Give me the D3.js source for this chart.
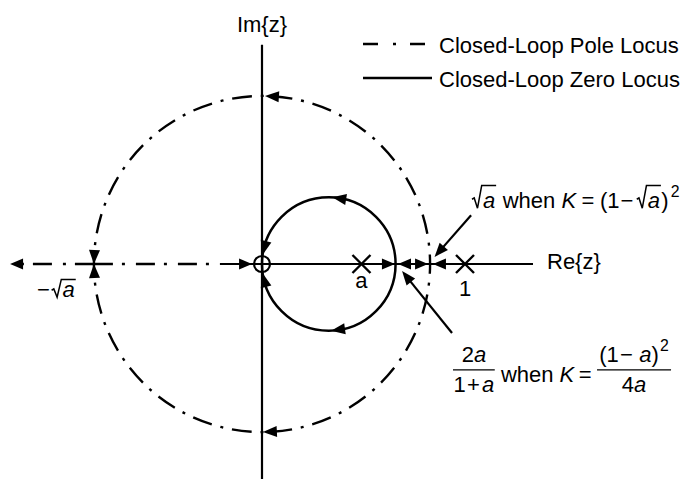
<!DOCTYPE html>
<html><head><meta charset="utf-8">
<script src="https://cdn.jsdelivr.net/npm/d3@7"></script>
<style>
html,body{margin:0;padding:0;background:#fff;}
svg{display:block;}
text{font-family:"Liberation Sans",Arial,Helvetica,sans-serif;fill:#000;}
</style></head><body>
<svg id="chart" width="687" height="479"></svg>
<script>
// Complex-plane extents (units of the real axis)
const reExtent = [-1.241, 1.335];
const imExtent = [-1.06, 1.08];
// Open-loop poles marked with crosses, and their labels
const polePositions = [0.49, 1];
const poleLabels = ["a", "1"];
// Closed-loop zero at the origin
const zeroPositions = [0];
// Pole-locus circle radius (√a) and zero-locus circle crossing (2a/(1+a))
const poleCircleRadius = 0.828;
const zeroCircleCrossing = 0.658;
// Where the real-axis pole locus turns from dash-dot to solid
const realLocusSolidFrom = -0.207;
// Legend entries
const legendLabels = ["Closed-Loop Pole Locus", "Closed-Loop Zero Locus"];
const legendStyles = ["dashdot", "solid"];
// Direction arrows on the pole-locus circle: angle (deg) and sense (+1 ccw, -1 cw)
const poleArrowAngles = [89, -89.7, 180, -180];
const poleArrowSense = [1, -1, 1, -1];
// Direction arrows on the zero-locus circle (angles about its own centre)
const zeroArrowAngles = [87, -88, 172, -172];
const zeroArrowSense = [1, -1, 1, -1];
// Arrows along the real axis: tip position and heading (+1 right, -1 left)
const axisArrowTips = [-1.241, -0.049, 0.655, 0.670, 0.818, 0.842];
const axisArrowHeading = [-1, 1, 1, -1, 1, -1];
// Callout leaders: start and tip in plane coordinates
const calloutFrom = [[1.03, 0.24], [0.936, -0.34]];
const calloutTo = [[0.85, 0.035], [0.69, -0.035]];

const svg = d3.select("#chart");
const x = d3.scaleLinear().domain([0, 1]).range([262, 465]);
const y = d3.scaleLinear().domain([0, 1]).range([264, 61]);
const unit = x(1) - x(0);
const FS = 22;
const INK = "#000";
const SP = 0.278; // width of a word space, in em

// filled arrowhead with its tip at (tx,ty) and a base point (bx,by)
function headFromBase(g, tx, ty, bx, by, W = 5.5) {
  const a = Math.atan2(ty - by, tx - bx);
  const px = -Math.sin(a) * W, py = Math.cos(a) * W;
  g.append("path")
    .attr("d", `M${tx},${ty}L${bx + px},${by + py}L${bx - px},${by - py}Z`)
    .attr("fill", INK);
}
function headDir(g, tx, ty, ang, L = 14, W = 5.5) {
  headFromBase(g, tx, ty, tx - L * Math.cos(ang), ty - L * Math.sin(ang), W);
}
// arrowhead sitting on a circle, tip at angle deg, moving in the given sense
function circleHead(g, cx, cy, R, deg, sense, L = 14) {
  const t = deg * Math.PI / 180;
  const tb = t - sense * L / R;
  headFromBase(g, cx + R * Math.cos(t), cy - R * Math.sin(t),
                  cx + R * Math.cos(tb), cy - R * Math.sin(tb));
}
// evenly fitted dash-dot pattern for a closed path of length C
function fittedDash(C, base) {
  const per = d3.sum(base);
  const n = Math.round(C / per);
  const s = C / n / per;
  return base.map(v => (v * s).toFixed(2)).join(" ");
}

const gLines = svg.append("g");
const gHeads = svg.append("g");
const gText = svg.append("g");

// axes
gLines.append("line")
  .attr("x1", x(0)).attr("x2", x(0))
  .attr("y1", y(imExtent[1])).attr("y2", y(imExtent[0]) + 20)
  .attr("stroke", INK).attr("stroke-width", 2.2);
gLines.append("line")
  .attr("x1", x(realLocusSolidFrom)).attr("x2", x(reExtent[1]))
  .attr("y1", y(0)).attr("y2", y(0))
  .attr("stroke", INK).attr("stroke-width", 2.2);

// pole locus on the negative real axis (dash-dot)
const dashBase = [19, 9, 3, 11];
gLines.append("line")
  .attr("x1", x(-poleCircleRadius)).attr("x2", x(realLocusSolidFrom))
  .attr("y1", y(0)).attr("y2", y(0))
  .attr("stroke", INK).attr("stroke-width", 2.4)
  .attr("stroke-dasharray", dashBase.join(" "));
gLines.append("line")
  .attr("x1", x(-poleCircleRadius)).attr("x2", x(reExtent[0]) + 12)
  .attr("y1", y(0)).attr("y2", y(0))
  .attr("stroke", INK).attr("stroke-width", 2.4)
  .attr("stroke-dasharray", dashBase.join(" "));

// pole locus circle
const Rp = poleCircleRadius * unit;
gLines.append("circle")
  .attr("cx", x(0)).attr("cy", y(0)).attr("r", Rp)
  .attr("fill", "none").attr("stroke", INK).attr("stroke-width", 2.4)
  .attr("stroke-dasharray", fittedDash(2 * Math.PI * Rp, [20, 9, 3, 9]))
  .attr("stroke-dashoffset", 10);

// zero locus circle
const zc = zeroCircleCrossing / 2;
const Rz = zc * unit;
gLines.append("circle")
  .attr("cx", x(zc)).attr("cy", y(0)).attr("r", Rz)
  .attr("fill", "none").attr("stroke", INK).attr("stroke-width", 2.5);

// closed-loop zero
zeroPositions.forEach(z => {
  gLines.append("circle")
    .attr("cx", x(z)).attr("cy", y(0)).attr("r", 8)
    .attr("fill", "none").attr("stroke", INK).attr("stroke-width", 2.2);
});

// open-loop poles
polePositions.forEach((p, i) => {
  const cx = x(p), cy = y(0), s = 9;
  gLines.append("path")
    .attr("d", `M${cx - s},${cy - s}L${cx + s},${cy + s}M${cx - s},${cy + s}L${cx + s},${cy - s}`)
    .attr("stroke", INK).attr("stroke-width", 2.4).attr("fill", "none");
  gText.append("text")
    .attr("x", cx).attr("y", i === 0 ? cy + 24 : cy + 32)
    .attr("text-anchor", "middle").style("font-size", FS + "px")
    .text(poleLabels[i]);
});

// direction arrows
poleArrowAngles.forEach((d, i) => circleHead(gHeads, x(0), y(0), Rp, d, poleArrowSense[i]));
zeroArrowAngles.forEach((d, i) => circleHead(gHeads, x(zc), y(0), Rz, d, zeroArrowSense[i]));
axisArrowTips.forEach((t, i) => headDir(gHeads, x(t), y(0), axisArrowHeading[i] > 0 ? 0 : Math.PI, 13, 5.5));

// callout leaders
calloutFrom.forEach((f, i) => {
  const t = calloutTo[i];
  const a = Math.atan2(y(t[1]) - y(f[1]), x(t[0]) - x(f[0]));
  gLines.append("line")
    .attr("x1", x(f[0])).attr("y1", y(f[1]))
    .attr("x2", x(t[0]) - 10 * Math.cos(a)).attr("y2", y(t[1]) - 10 * Math.sin(a))
    .attr("stroke", INK).attr("stroke-width", 2.2);
  headDir(gHeads, x(t[0]), y(t[1]), a, 14, 5.5);
});

// simple math typesetting: runs of text, square roots, fractions, superscripts
function mathRun(parent, x0, y0, items, size) {
  let cx = x0;
  for (const it of items) {
    if (it.gap !== undefined) { cx += it.gap * size; continue; }
    if (it.root) {
      const rw = (it.w || 0.5) * size;
      const end = mathRun(parent, cx + rw, y0, it.root, size);
      const top = y0 - (it.h || 0.8) * size;
      const mid = y0 - (it.h || 0.8) * size * 0.42;
      parent.append("path")
        .attr("d", `M${cx},${mid + 0.03 * size}L${cx + 0.1 * size},${mid - 0.03 * size}` +
                   `L${cx + 0.25 * size},${y0 + 0.01 * size}L${cx + rw - 0.06 * size},${top}L${end + 0.04 * size},${top}`)
        .attr("fill", "none").attr("stroke", INK).attr("stroke-width", 1.5)
        .attr("stroke-linejoin", "miter");
      cx = end + 0.06 * size;
      continue;
    }
    if (it.frac) {
      const gN = parent.append("g"), gD = parent.append("g");
      const wN = mathRun(gN, 0, 0, it.frac[0], size);
      const wD = mathRun(gD, 0, 0, it.frac[1], size);
      const w = Math.max(wN, wD) + it.pad * size;
      const bar = y0 - 0.55 * size;
      gN.attr("transform", `translate(${cx + (w - wN) / 2},${bar - 0.37 * size})`);
      gD.attr("transform", `translate(${cx + (w - wD) / 2},${bar + 1.0 * size})`);
      parent.append("line").attr("x1", cx).attr("x2", cx + w)
        .attr("y1", bar).attr("y2", bar).attr("stroke", INK).attr("stroke-width", 1.3);
      cx += w;
      continue;
    }
    const sz = it.sup ? 0.72 * size : size;
    const t = parent.append("text")
      .attr("x", cx).attr("y", y0 - (it.sup ? 0.48 * size : 0))
      .style("font-size", sz + "px")
      .style("font-style", it.i ? "italic" : "normal")
      .text(it.t);
    cx += t.node().getComputedTextLength();
  }
  return cx;
}

// axis titles
gText.append("text").attr("x", x(0)).attr("y", 32).attr("text-anchor", "middle")
  .style("font-size", FS + "px").text("Im{z}");
gText.append("text").attr("x", 547).attr("y", 269)
  .style("font-size", FS + "px").text("Re{z}");

// −√a on the negative real axis
mathRun(gText, 37, 297, [{ t: "−" }, { gap: 0.08 }, { root: [{ t: "a", i: 1 }], h: 0.8 }], FS);

// √a when K = (1−√a)^2
mathRun(gText, 472, 208, [
  { root: [{ t: "a", i: 1 }], h: 1.02 }, { gap: SP }, { t: "when" }, { gap: SP }, { t: "K", i: 1 },
  { gap: 0.25 }, { t: "=" }, { gap: 0.25 }, { t: "(1" }, { gap: 0.05 }, { t: "−" }, { gap: 0.15 },
  { root: [{ t: "a", i: 1 }], h: 1.02 }, { t: ")" }, { gap: 0.1 }, { t: "2", sup: 1 }
], FS);

// 2a/(1+a) when K = (1−a)^2 / 4a
mathRun(gText, 453, 382, [
  { frac: [[{ t: "2" }, { t: "a", i: 1 }], [{ t: "1" }, { gap: 0.05 }, { t: "+" }, { gap: 0.1 }, { t: "a", i: 1 }]], pad: 0.05 },
  { gap: SP }, { t: "when" }, { gap: SP }, { t: "K", i: 1 }, { gap: 0.2 }, { t: "=" }, { gap: 0.25 },
  { frac: [[{ t: "(1" }, { gap: 0.05 }, { t: "−" }, { gap: 0.3 }, { t: "a", i: 1 }, { t: ")" }, { gap: 0.05 }, { t: "2", sup: 1 }],
           [{ t: "4" }, { t: "a", i: 1 }]], pad: 0.2 }
], FS);

// legend
const legend = svg.append("g");
legendLabels.forEach((lab, i) => {
  const ly = [44, 78][i];
  const ln = legend.append("line")
    .attr("x1", 363).attr("x2", legendStyles[i] === "solid" ? 432 : 425)
    .attr("y1", ly).attr("y2", ly)
    .attr("stroke", INK).attr("stroke-width", 2.4);
  if (legendStyles[i] === "dashdot") ln.attr("stroke-dasharray", "15 15 3 14");
  legend.append("text").attr("x", 439).attr("y", ly + 9)
    .style("font-size", FS + "px").text(lab);
});
</script>
</body></html>
